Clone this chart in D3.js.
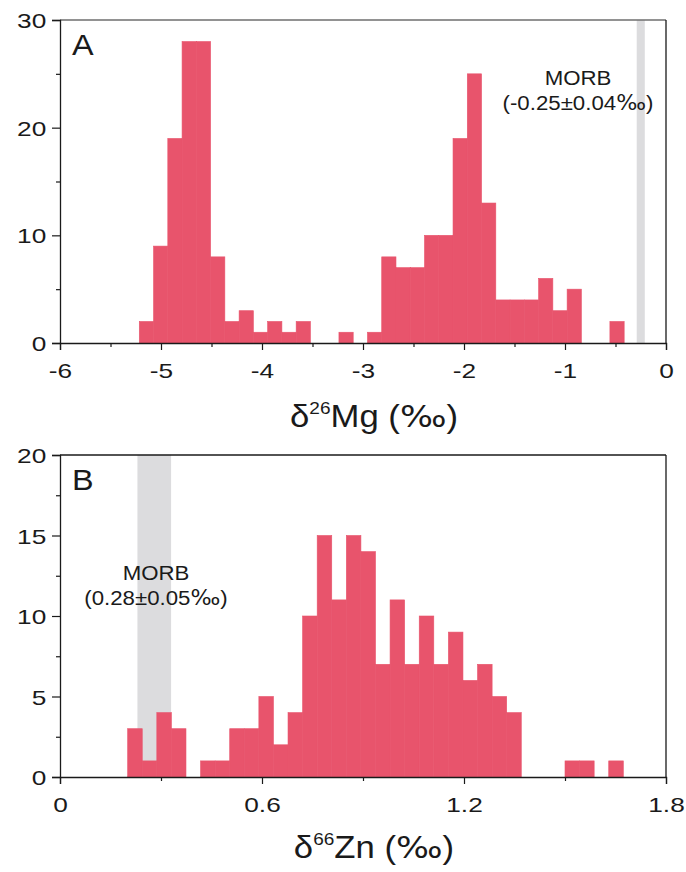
<!DOCTYPE html>
<html>
<head>
<meta charset="utf-8">
<script src="https://cdn.jsdelivr.net/npm/d3@7"></script>
<style>
  body { margin: 0; background: #fff; }
  text { font-family: "Liberation Sans", Arial, sans-serif; fill: #1a1a1a; }
</style>
</head>
<body>
<div id="chart"></div>
<script>
  // panel A: delta26Mg histogram
  var mgCounts = [2, 9, 19, 28, 28, 8, 2, 3, 1, 2, 1, 2, 0, 0, 1, 0, 1, 8, 7, 7,
                  10, 10, 19, 25, 13, 4, 4, 4, 6, 3, 5, 0, 0, 2];
  var mgBinStart = -5.215, mgBinWidth = 0.1412;
  var mgXTicks = [-6, -5, -4, -3, -2, -1, 0];
  var mgXMinor = [-5.5, -4.5, -3.5, -2.5, -1.5, -0.5];
  var mgYTicks = [0, 10, 20, 30];
  var mgYMinor = [5, 15, 25];
  var mgMorb = [-0.25, 0.04];

  // panel B: delta66Zn histogram
  var znCounts = [3, 1, 4, 3, 0, 1, 1, 3, 3, 5, 2, 4, 10, 15, 11, 15, 14, 7, 11, 7,
                  10, 7, 9, 6, 7, 5, 4, 0, 0, 0, 1, 1, 0, 1];
  var znBinStart = 0.201, znBinWidth = 0.0433;
  var znXTicks = [0, 0.6, 1.2, 1.8];
  var znXMinor = [0.3, 0.9, 1.5];
  var znYTicks = [0, 5, 10, 15, 20];
  var znYMinor = [2.5, 7.5, 12.5, 17.5];
  var znMorb = [0.28, 0.05];

  var width = 686, height = 872;
  var barColor = "#e8546c", bandColor = "#dcdcde";

  var svg = d3.select("#chart")
              .append("svg")
              .attr("width", width)
              .attr("height", height);

  // the figure's lettering is a bit wider than plain Arial
  function wideText(sel, x, y, sx) {
    return sel.append("text")
              .attr("transform", "translate(" + x + "," + y + ") scale(" + sx + ",1)");
  }

  function permil(t, size) {
    t.append("tspan").attr("font-size", size).style("font-family", "'DejaVu Sans', sans-serif").text("\u2030");
  }

  function drawPanel(opt) {
    var x = d3.scaleLinear().domain(opt.xDomain).range([60, 666]);
    var y = d3.scaleLinear().domain(opt.yDomain).range([opt.bottom, opt.top]);
    var g = svg.append("g");

    // MORB band, full height
    g.append("rect")
     .attr("x", x(opt.morb[0] - opt.morb[1]))
     .attr("width", x(opt.morb[0] + opt.morb[1]) - x(opt.morb[0] - opt.morb[1]))
     .attr("y", y(opt.yDomain[1]))
     .attr("height", y(0) - y(opt.yDomain[1]))
     .attr("fill", bandColor);

    var bins = opt.counts.map(function(c, i) {
      return {x0: opt.binStart + i * opt.binWidth, x1: opt.binStart + (i + 1) * opt.binWidth, n: c};
    }).filter(function(d) { return d.n > 0; });

    g.selectAll(".bar")
     .data(bins)
     .enter()
     .append("rect")
     .attr("class", "bar")
     .attr("x", function(d) { return x(d.x0); })
     .attr("width", function(d) { return x(d.x1) - x(d.x0); })
     .attr("y", function(d) { return y(d.n); })
     .attr("height", function(d) { return y(0) - y(d.n); })
     .attr("fill", barColor)
     .attr("stroke", barColor)
     .attr("stroke-width", 0.6);

    // frame: top and right
    g.append("line")
     .attr("x1", x.range()[0]).attr("x2", x.range()[1])
     .attr("y1", opt.top).attr("y2", opt.top)
     .attr("stroke", opt.topColor).attr("stroke-width", 1.3);
    g.append("line")
     .attr("x1", x.range()[1]).attr("x2", x.range()[1])
     .attr("y1", opt.top).attr("y2", opt.bottom)
     .attr("stroke", "#1a1a1a").attr("stroke-width", 1.3);

    var xAxis = g.append("g")
                 .attr("transform", "translate(0," + opt.bottom + ")")
                 .call(d3.axisBottom(x).tickValues(opt.xTicks).tickSize(7).tickPadding(13)
                         .tickFormat(function(d) { return String(+d.toFixed(2)); }));
    g.append("g")
     .attr("transform", "translate(0," + opt.bottom + ")")
     .call(d3.axisBottom(x).tickValues(opt.xMinor).tickSize(4).tickFormat(""))
     .select(".domain").remove();

    var yAxis = g.append("g")
                 .attr("transform", "translate(60,0)")
                 .call(d3.axisLeft(y).tickValues(opt.yTicks).tickSize(8).tickPadding(3));
    g.append("g")
     .attr("transform", "translate(60,0)")
     .call(d3.axisLeft(y).tickValues(opt.yMinor).tickSize(4).tickFormat(""))
     .select(".domain").remove();

    g.selectAll(".domain").attr("stroke", "#1a1a1a").attr("stroke-width", 1.3);
    g.selectAll(".tick line").attr("stroke", "#1a1a1a").attr("stroke-width", 1.2);
    g.selectAll(".tick text").attr("font-size", 21).attr("fill", "#1a1a1a")
     .attr("transform", "scale(1.25,1)")
     .style("font-family", "'Liberation Sans', Arial, sans-serif");
    xAxis.selectAll(".tick text").attr("dy", "0.71em");
    yAxis.selectAll(".tick text").attr("dy", "0.36em");

    // panel letter
    wideText(g, 72, opt.top + 35, 1.08)
     .attr("font-size", 30)
     .text(opt.letter);

    // MORB labels
    wideText(g, opt.labelX, opt.labelY, 1.06)
     .attr("text-anchor", "middle")
     .attr("font-size", 21)
     .text("MORB");
    var m = wideText(g, opt.labelX, opt.labelY + 25, 1.06)
             .attr("text-anchor", "middle")
             .attr("font-size", 21);
    m.append("tspan").text("(" + opt.morb[0] + "\u00b1" + opt.morb[1].toFixed(2));
    permil(m, 21);
    m.append("tspan").text(")");

    // axis title
    var t = wideText(g, 374, opt.titleY, 1.12)
             .attr("text-anchor", "middle")
             .attr("font-size", 31);
    t.append("tspan").text("\u03b4");
    t.append("tspan").attr("font-size", 17).attr("dy", -13).text(opt.iso);
    t.append("tspan").attr("dy", 13).text(opt.elem + " (");
    permil(t, 31);
    t.append("tspan").text(")");
  }

  drawPanel({
    xDomain: [-6, 0], yDomain: [0, 30], top: 20, bottom: 343,
    counts: mgCounts, binStart: mgBinStart, binWidth: mgBinWidth,
    xTicks: mgXTicks, xMinor: mgXMinor, yTicks: mgYTicks, yMinor: mgYMinor,
    morb: mgMorb, letter: "A", labelX: 578, labelY: 85, titleY: 427,
    iso: "26", elem: "Mg", topColor: "#6e6e6e"
  });

  drawPanel({
    xDomain: [0, 1.8], yDomain: [0, 20], top: 455, bottom: 777,
    counts: znCounts, binStart: znBinStart, binWidth: znBinWidth,
    xTicks: znXTicks, xMinor: znXMinor, yTicks: znYTicks, yMinor: znYMinor,
    morb: znMorb, letter: "B", labelX: 156, labelY: 580, titleY: 858,
    iso: "66", elem: "Zn", topColor: "#1a1a1a"
  });
</script>
</body>
</html>
